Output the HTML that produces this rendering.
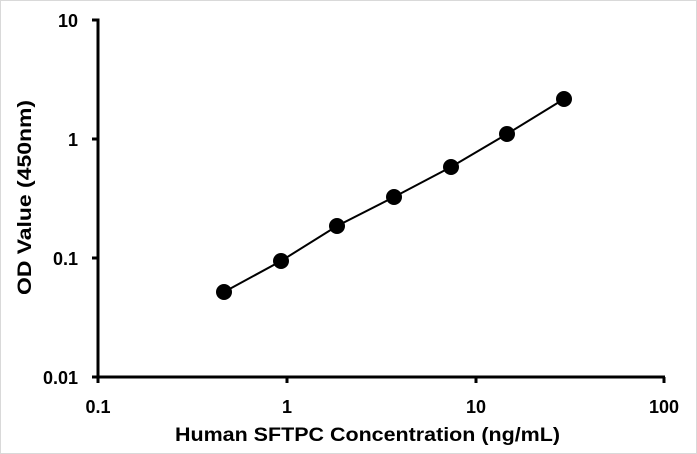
<!DOCTYPE html><html><head><style>body{margin:0;background:#fff}svg{display:block}text{font-family:"Liberation Sans",sans-serif;font-weight:bold;fill:#000}</style></head><body>
<svg width="697" height="454" viewBox="0 0 697 454">
<rect x="0.5" y="0.5" width="696" height="453" fill="#fff" stroke="#d9d9d9"/>
<g stroke="#000" stroke-width="3" fill="none">
<line x1="98" y1="18.5" x2="98" y2="378"/>
<line x1="96.5" y1="377" x2="665" y2="377"/>
<line x1="92" y1="20" x2="98" y2="20"/><line x1="92" y1="139" x2="98" y2="139"/><line x1="92" y1="258" x2="98" y2="258"/><line x1="92" y1="377" x2="98" y2="377"/>
<line x1="98" y1="377" x2="98" y2="383"/><line x1="287" y1="377" x2="287" y2="383"/><line x1="476" y1="377" x2="476" y2="383"/><line x1="664" y1="377" x2="664" y2="383"/>
</g>
<polyline points="224,292 281,261 337,226 394,197 451,167 507,134 564,99" fill="none" stroke="#000" stroke-width="2"/>
<g fill="#000"><circle cx="224" cy="292" r="8"/><circle cx="281" cy="261" r="8"/><circle cx="337" cy="226" r="8"/><circle cx="394" cy="197" r="8"/><circle cx="451" cy="167" r="8"/><circle cx="507" cy="134" r="8"/><circle cx="564" cy="99" r="8"/></g>
<g font-size="18" text-anchor="end"><text x="78" y="27">10</text><text x="78" y="146">1</text><text x="78" y="265">0.1</text><text x="78" y="384">0.01</text></g>
<g font-size="18" text-anchor="middle"><text x="98" y="413">0.1</text><text x="287" y="413">1</text><text x="476" y="413">10</text><text x="664" y="413">100</text></g>
<text x="175" y="441" font-size="19" textLength="385" lengthAdjust="spacingAndGlyphs">Human SFTPC Concentration (ng/mL)</text>
<text transform="translate(31,295) rotate(-90)" font-size="19" textLength="195" lengthAdjust="spacingAndGlyphs">OD Value (450nm)</text>
</svg></body></html>
